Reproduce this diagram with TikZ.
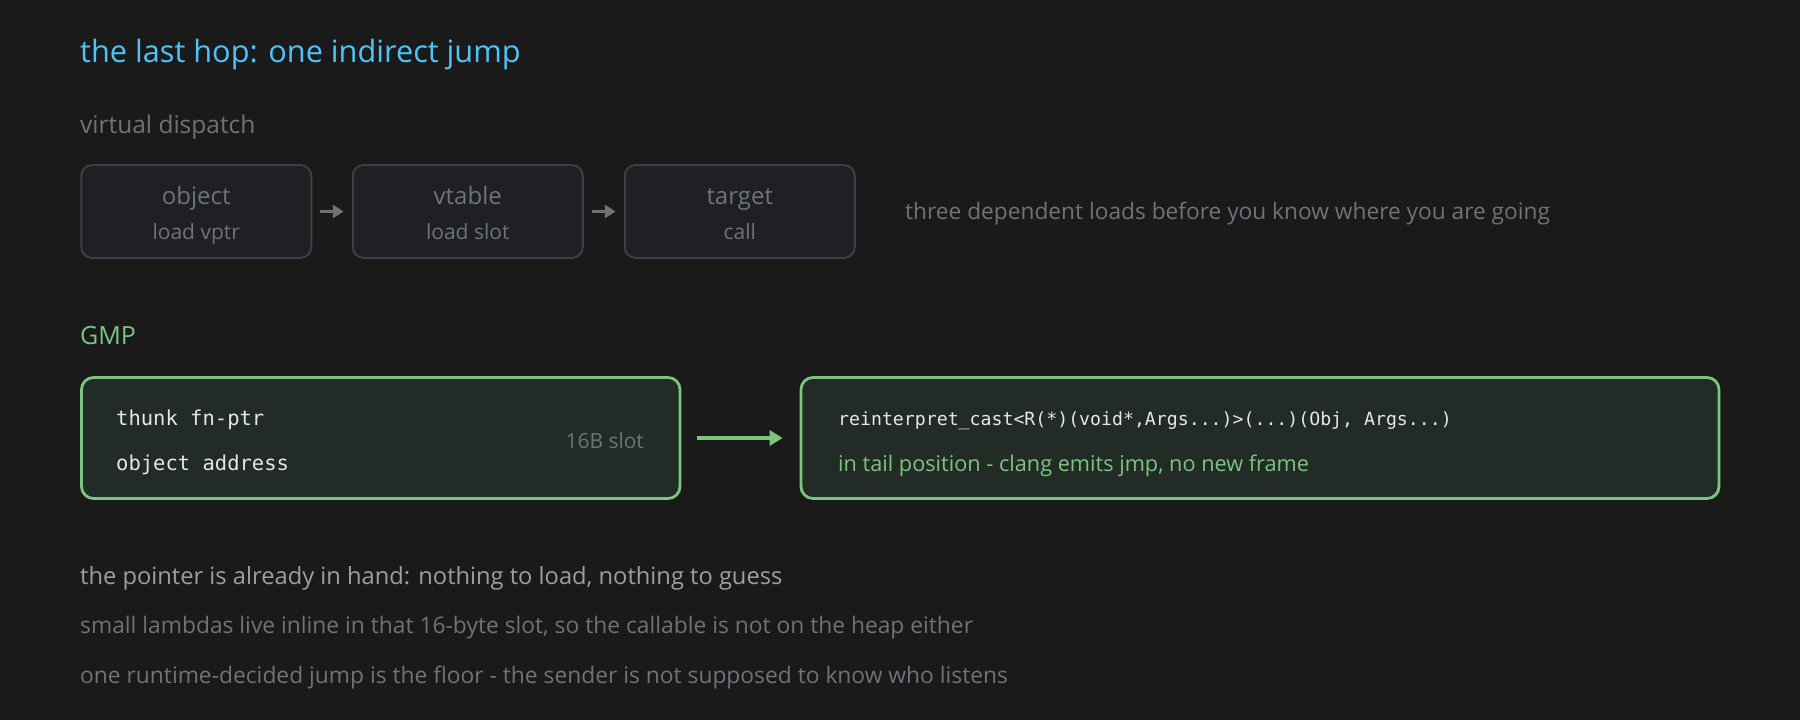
\documentclass[tikz,border=0pt]{standalone}
\usepackage{fontspec}
\setmainfont{Open Sans}
\newfontfamily\codefont{DejaVu Sans Mono}
\usetikzlibrary{arrows.meta}
\definecolor{bgc}{HTML}{1A1A1A}
\definecolor{titlec}{HTML}{4FC3F7}
\definecolor{dimc}{HTML}{6E737A}
\definecolor{lightc}{HTML}{9A9EA5}
\definecolor{boxfill}{HTML}{1F2024}
\definecolor{boxline}{HTML}{3C3F45}
\definecolor{greenc}{HTML}{7CC47F}
\definecolor{gfill}{HTML}{232B26}
\definecolor{codec}{HTML}{E6E6E6}
\tikzset{
  txt/.style={anchor=west, inner sep=0pt, text height=0.75em, text depth=0.25em},
  ctxt/.style={anchor=center, inner sep=0pt, text height=0.75em, text depth=0.25em},
  vbox/.style={draw=boxline, fill=boxfill, line width=2pt, rounded corners=11pt, minimum width=230pt, minimum height=93pt, inner sep=0pt},
  gbox/.style={draw=greenc, fill=gfill, line width=2.8pt, rounded corners=12pt, inner sep=0pt},
  varrow/.style={draw=dimc, line width=3pt, -{Triangle[length=11pt,width=13pt]}},
  garrow/.style={draw=greenc, line width=4pt, -{Triangle[length=13pt,width=15pt]}},
}
\begin{document}
\begin{tikzpicture}[x=1pt,y=-1pt]
\fill[bgc] (0,0) rectangle (1800,720);
\useasboundingbox (0,0) rectangle (1800,720);

\node[txt, text=titlec, font=\fontsize{30.7}{34}\selectfont] (title) at (80,60) {the last hop: one indirect jump};
\node[txt, text=dimc, font=\fontsize{24.5}{28}\selectfont] (vd) at (80,131) {virtual dispatch};

\node[vbox] (obj) at (196.25,211.5) {};
\node[vbox] (vt) at (467.75,211.5) {};
\node[vbox] (tg) at (739.75,211.5) {};
\foreach \n/\a/\b in {obj/object/load vptr, vt/vtable/load slot, tg/target/call}{
  \node[ctxt, text=dimc, font=\fontsize{24}{28}\selectfont] at ([yshift=9.5pt]\n.center) {\a};
  \node[ctxt, text=dimc, font=\fontsize{21}{25}\selectfont] at ([yshift=-25pt]\n.center) {\b};
}
\draw[varrow] ([xshift=8pt]obj.east) -- ([xshift=-8pt]vt.west);
\draw[varrow] ([xshift=8pt]vt.east) -- ([xshift=-8pt]tg.west);
\node[txt, text=dimc, font=\fontsize{22.7}{27}\selectfont] (three) at (905,217) {three dependent loads before you know where you are going};

\node[txt, text=greenc, font=\fontsize{25}{29}\selectfont] (gmp) at (80,342) {GMP};

\node[gbox, minimum width=598.5pt, minimum height=121pt] (slot) at (380.75,438) {};
\node[txt, text=codec, font=\codefont\fontsize{20.5}{24}\selectfont] (thunk) at (116,423) {thunk fn-ptr};
\node[txt, text=codec, font=\codefont\fontsize{20.5}{24}\selectfont] (oaddr) at (116,468) {object address};
\node[anchor=east, inner sep=0pt, text height=0.75em, text depth=0.25em, text=dimc, font=\fontsize{20.9}{25}\selectfont] (sz) at (644,446) {16B slot};

\node[gbox, minimum width=918pt, minimum height=121pt] (call) at (1260,438) {};
\node[txt, text=codec, font=\codefont\fontsize{18.2}{22}\selectfont] (cast) at (838,423) {reinterpret\_cast<R(*)(void*,Args...)>(...)(Obj, Args...)};
\node[txt, text=greenc, font=\fontsize{21.7}{26}\selectfont] (tail) at (838,469) {in tail position - clang emits jmp, no new frame};

\draw[garrow] ([xshift=16pt]slot.east) -- ([xshift=-17pt]call.west);

\node[txt, text=lightc, font=\fontsize{23.7}{28}\selectfont] (l1) at (80,582) {the pointer is already in hand: nothing to load, nothing to guess};
\node[txt, text=dimc, font=\fontsize{22.8}{27}\selectfont] (l2) at (80,631) {small lambdas live inline in that 16-byte slot, so the callable is not on the heap either};
\node[txt, text=dimc, font=\fontsize{22.8}{27}\selectfont] (l3) at (80,681) {one runtime-decided jump is the floor - the sender is not supposed to know who listens};
\end{tikzpicture}
\end{document}
